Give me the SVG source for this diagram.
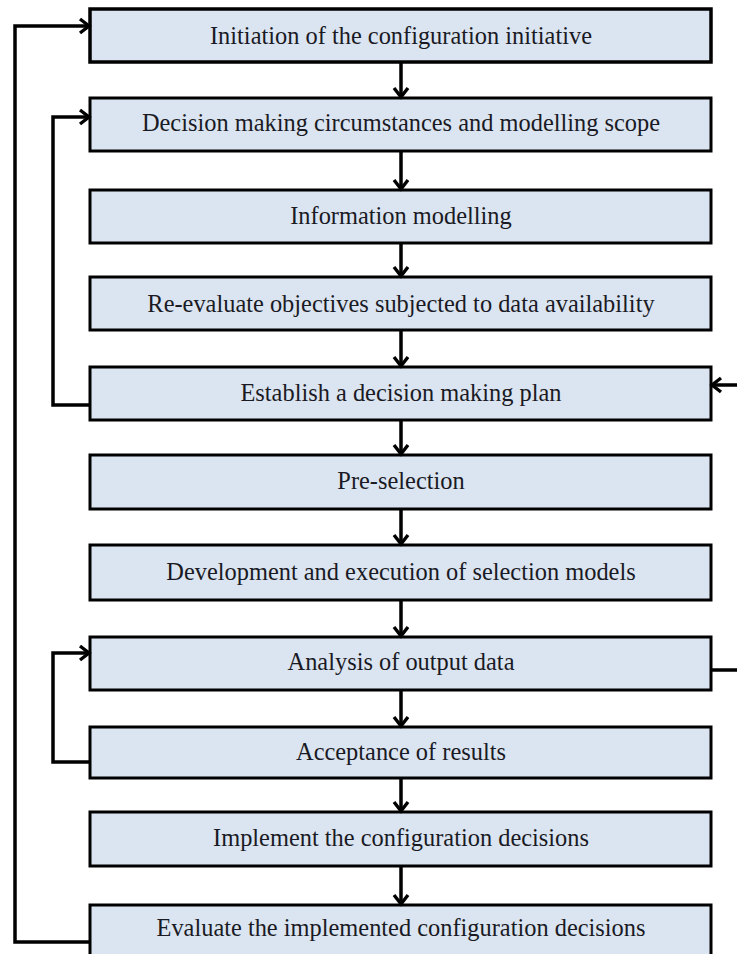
<svg xmlns="http://www.w3.org/2000/svg" width="737" height="954" viewBox="0 0 737 954">
<style>
.box rect{fill:#dbe5f1;stroke:#000;stroke-width:3}
.box text{font-family:"Liberation Serif","Times New Roman",serif;font-size:24.4px;fill:#1a1a24;text-anchor:middle}
.conn path,.conn line{fill:none;stroke:#000;stroke-width:3.5}
</style>
<defs>
<marker id="ah" viewBox="-12 -10 14 20" markerWidth="14" markerHeight="20" refX="0" refY="0" orient="auto" markerUnits="userSpaceOnUse">
<path d="M-10,-7 L-1,0 L-10,7" fill="none" stroke="#000" stroke-width="3.4"/>
</marker>
</defs>
<g id="n1" class="box"><rect x="90" y="9" width="621" height="53" style="stroke-width:3.5"/><text x="401" y="44">Initiation of the configuration initiative</text></g>
<g id="n2" class="box"><rect x="90" y="98" width="621" height="53"/><text x="401" y="131">Decision making circumstances and modelling scope</text></g>
<g id="n3" class="box"><rect x="90" y="190" width="621" height="53"/><text x="401" y="224">Information modelling</text></g>
<g id="n4" class="box"><rect x="90" y="277" width="621" height="53"/><text x="401" y="312">Re-evaluate objectives subjected to data availability</text></g>
<g id="n5" class="box"><rect x="90" y="367" width="621" height="53"/><text x="401" y="401">Establish a decision making plan</text></g>
<g id="n6" class="box"><rect x="90" y="455" width="621" height="54"/><text x="401" y="489">Pre-selection</text></g>
<g id="n7" class="box"><rect x="90" y="545" width="621" height="55"/><text x="401" y="580">Development and execution of selection models</text></g>
<g id="n8" class="box"><rect x="90" y="637" width="621" height="53"/><text x="401" y="670">Analysis of output data</text></g>
<g id="n9" class="box"><rect x="90" y="727" width="621" height="51"/><text x="401" y="760">Acceptance of results</text></g>
<g id="n10" class="box"><rect x="90" y="812" width="621" height="54"/><text x="401" y="846">Implement the configuration decisions</text></g>
<g id="n11" class="box"><rect x="90" y="905" width="621" height="60"/><text x="401" y="936">Evaluate the implemented configuration decisions</text></g>
<g id="connectors" class="conn">
<line x1="401" y1="62" x2="401" y2="98" marker-end="url(#ah)"/>
<line x1="401" y1="151" x2="401" y2="190" marker-end="url(#ah)"/>
<line x1="401" y1="243" x2="401" y2="277" marker-end="url(#ah)"/>
<line x1="401" y1="330" x2="401" y2="367" marker-end="url(#ah)"/>
<line x1="401" y1="420" x2="401" y2="455" marker-end="url(#ah)"/>
<line x1="401" y1="509" x2="401" y2="545" marker-end="url(#ah)"/>
<line x1="401" y1="600" x2="401" y2="637" marker-end="url(#ah)"/>
<line x1="401" y1="690" x2="401" y2="727" marker-end="url(#ah)"/>
<line x1="401" y1="778" x2="401" y2="812" marker-end="url(#ah)"/>
<line x1="401" y1="866" x2="401" y2="905" marker-end="url(#ah)"/>
<path d="M90,942 H15 V26 H90" marker-end="url(#ah)"/>
<path d="M90,405 H53 V117 H90" marker-end="url(#ah)"/>
<path d="M90,762 H53 V653 H90" marker-end="url(#ah)"/>
<path d="M711,670 H750 V385 H711" marker-end="url(#ah)"/>
</g>
</svg>
